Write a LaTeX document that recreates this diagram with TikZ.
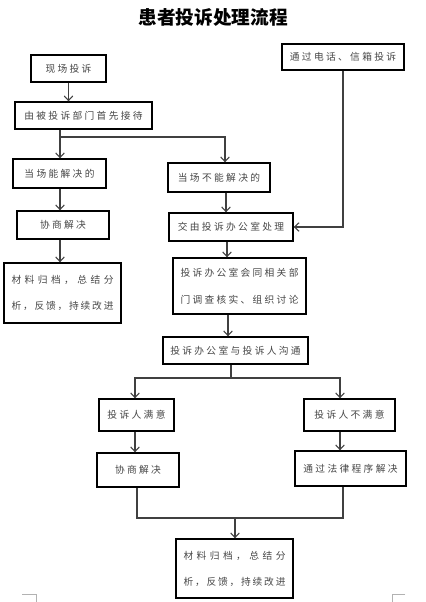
\documentclass[tikz,border=0pt]{standalone}
\usepackage{fontspec}
\usetikzlibrary{arrows.meta}
\newfontfamily\cjk{Noto Sans CJK SC}
\newfontfamily\cjkls[LetterSpace=24]{Noto Sans CJK SC}
\tikzset{
  sz/.style 2 args={minimum width=#1*0.75pt, minimum height=#2*0.75pt},
  box/.style={draw=black, line width=1pt, inner sep=0pt, text=black!72, font=\cjkls\fontsize{7.3}{9}\selectfont},
  boxtwo/.style={draw=black, line width=1pt, inner sep=0pt, text=black!72, align=center, font=\cjk\fontsize{7.3}{#1}\selectfont},
  ln/.style={draw=black!75, line width=0.8pt},
  arr/.style={draw=black!75, line width=0.8pt, -{Straight Barb[length=3.5pt,width=6.5pt]}}
}
\begin{document}
\begin{tikzpicture}[x=0.75pt,y=-0.75pt]
\useasboundingbox[fill=white] (0,0) rectangle (425,602);
\node[font=\cjk\bfseries\fontsize{14}{16}\selectfont] (title) at (213,17) {患者投诉处理流程};
\node[box, sz={122}{26}] (tel) at (343,57) {通过电话、信箱投诉};
\node[box, sz={75}{27}] (xc) at (68.5,68.5) {现场投诉};
\node[box, sz={137}{27}] (recv) at (83.5,115.5) {由被投诉部门首先接待};
\node[box, sz={93}{29}] (can) at (59.5,173.5) {当场能解决的};
\node[box, sz={102}{29}] (cannot) at (219,177.5) {当场不能解决的};
\node[box, sz={92}{28}] (neg1) at (63,225) {协商解决};
\node[boxtwo=19.5pt, sz={117}{60}] (arch1) at (62.5,293)
  {\makebox[76.5pt][s]{材\hfil 料\hfil 归\hfil 档\hfil ，\hfil 总\hfil 结\hfil 分}\\
   \makebox[76.5pt][s]{析\hfil ，\hfil 反\hfil 馈\hfil ，\hfil 持\hfil 续\hfil 改\hfil 进}};
\node[box, sz={124}{28}] (office) at (231,227) {交由投诉办公室处理};
\node[boxtwo=20pt, sz={133}{56}] (invest) at (239.5,286)
  {\makebox[88.5pt][s]{投\hfil 诉\hfil 办\hfil 公\hfil 室\hfil 会\hfil 同\hfil 相\hfil 关\hfil 部}\\
   \makebox[88.5pt][s]{门\hfil 调\hfil 查\hfil 核\hfil 实\hfil 、\hfil 组\hfil 织\hfil 讨\hfil 论}};
\node[box, sz={145}{27}] (comm) at (235.5,350.5) {投诉办公室与投诉人沟通};
\node[box, sz={75}{32}] (sat) at (136.5,415) {投诉人满意};
\node[box, sz={91}{32}] (unsat) at (349.5,415) {投诉人不满意};
\node[box, sz={82}{34}] (neg2) at (138,470) {协商解决};
\node[box, sz={111}{35}] (law) at (350.5,468.5) {通过法律程序解决};
\node[boxtwo=19.5pt, sz={117}{59}] (arch2) at (234.5,568.5)
  {\makebox[76.5pt][s]{材\hfil 料\hfil 归\hfil 档\hfil ，\hfil 总\hfil 结\hfil 分}\\
   \makebox[76.5pt][s]{析\hfil ，\hfil 反\hfil 馈\hfil ，\hfil 持\hfil 续\hfil 改\hfil 进}};
% coordinates
\coordinate (j1) at (60,137);
\coordinate (j2) at (225,137);
\coordinate (c1) at (226,0);
\coordinate (c2) at (227,0);
\coordinate (c3) at (228,0);
\coordinate (j3) at (231,378);
\coordinate (j4) at (135,378);
\coordinate (j5) at (340,378);
\coordinate (j6) at (137,518);
\coordinate (j7) at (343,518);
\coordinate (j8) at (235,518);
% connectors
\draw[arr] (xc.south) -- (xc.south |- recv.north);
\draw[ln] (recv.south -| j1) -- (j1);
\draw[arr] (j1) -- (j1 |- can.north);
\draw[arr] (j1) -- (j2) -- (j2 |- cannot.north);
\draw[arr] (tel.south) |- (office.east);
\draw[arr] (can.south -| j1) -- (j1 |- neg1.north);
\draw[arr] (neg1.south -| j1) -- (j1 |- arch1.north);
\draw[arr] (cannot.south -| c1) -- (office.north -| c1);
\draw[arr] (office.south -| c2) -- (invest.north -| c2);
\draw[arr] (invest.south -| c3) -- (comm.north -| c3);
\draw[ln] (comm.south -| j3) -- (j3);
\draw[arr] (j3) -- (j4) -- (j4 |- sat.north);
\draw[arr] (j3) -- (j5) -- (j5 |- unsat.north);
\draw[arr] (sat.south -| j4) -- (neg2.north -| j4);
\draw[arr] (unsat.south -| j5) -- (law.north -| j5);
\draw[ln] (neg2.south -| j6) -- (j6) -- (j7) -- (law.south -| j7);
\draw[arr] (j8) -- (arch2.north -| j8);
% page corner marks
\draw[gray!60, line width=0.6pt] (22,594) -- (36,594) -- (36,602);
\draw[gray!60, line width=0.6pt] (405,594) -- (392,594) -- (392,602);
\end{tikzpicture}
\end{document}
